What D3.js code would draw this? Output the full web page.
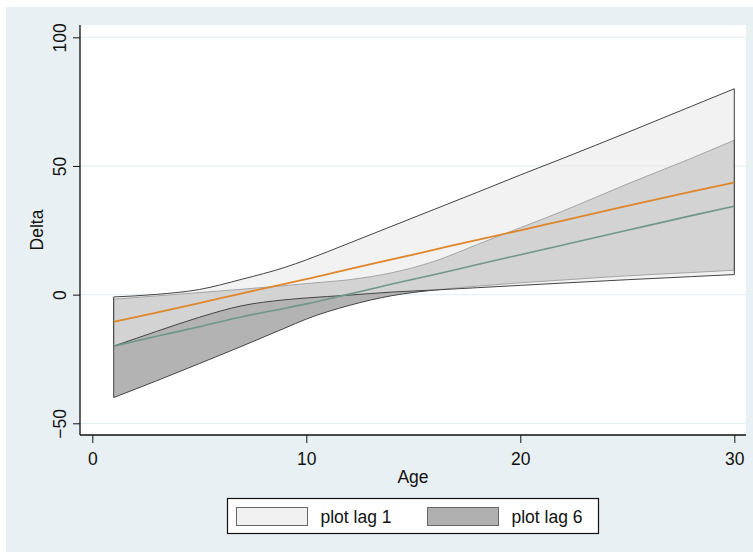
<!DOCTYPE html>
<html>
<head>
<meta charset="utf-8">
<script src="https://cdn.jsdelivr.net/npm/d3@7"></script>
<style>
  body { margin: 0; background: #fff; }
  svg text { font-family: "Liberation Sans", Arial, sans-serif; fill: #111; }
</style>
</head>
<body>
<div id="chart"></div>
<script>
// ages where the band edges / fitted lines were read
var ages = [1, 3, 5, 7, 9, 10, 12, 14, 16, 18, 20, 22, 25, 28, 30];

// lag 1 confidence band and fit
var lag1Upper = [-0.9, 0.1, 2.0, 6.0, 10.6, 13.5, 20, 26.6, 33.2, 39.8, 46.5, 53, 63, 73.2, 80];
var lag1Lower = [-20, -14.3, -8.8, -4.3, -2, -1.3, -0.2, 1.0, 1.8, 2.7, 3.6, 4.5, 5.8, 7, 7.8];
var lag1Fit   = [-10.6, -7, -3.3, 0.5, 4.2, 6, 9.9, 13.7, 17.5, 21.3, 25, 28.8, 34.5, 40, 43.6];

// lag 6 confidence band and fit
var lag6Upper = [-1.8, -0.5, 0.8, 2.1, 3.5, 4.3, 5.8, 8.5, 13, 19.5, 26, 32.5, 43, 53, 60];
var lag6Lower = [-40, -33.5, -26.8, -20, -13, -9.5, -4.2, -0.4, 1.8, 3.3, 4.6, 5.7, 7.3, 8.6, 9.5];
var lag6Fit   = [-20, -16.2, -12.5, -8.6, -5.3, -3.6, 0.2, 4.1, 7.8, 11.7, 15.5, 19.3, 25, 30.7, 34.4];

var xTicks = [0, 10, 20, 30];
var yTicks = [-50, 0, 50, 100];
var legendLabels = ["plot lag 1", "plot lag 6"];

var W = 753, H = 552;
var plot = {left: 80, right: 746, top: 25, bottom: 435};

var svg = d3.select("#chart").append("svg")
    .attr("width", W).attr("height", H);

// graph region
svg.append("rect").attr("x", 6).attr("y", 7).attr("width", W - 6).attr("height", H - 7)
    .attr("fill", "#e9f0f3");
svg.append("rect")
    .attr("x", plot.left).attr("y", plot.top)
    .attr("width", plot.right - plot.left).attr("height", plot.bottom - plot.top)
    .attr("fill", "#fff");

var x = d3.scaleLinear().domain([0, 30]).range([92.3, 734.3]);
var y = d3.scaleLinear().domain([-50, 100]).range([423.3, 37.3]);

// gridlines
svg.append("g").selectAll("line").data(yTicks).enter().append("line")
    .attr("x1", plot.left).attr("x2", plot.right)
    .attr("y1", function(d) { return y(d); }).attr("y2", function(d) { return y(d); })
    .attr("stroke", "#e6eff1").attr("stroke-width", 1.2);

function bandArea(upper, lower) {
    return d3.area()
        .x(function(d, i) { return x(ages[i]); })
        .y0(function(d, i) { return y(lower[i]); })
        .y1(function(d, i) { return y(upper[i]); })
        .curve(d3.curveMonotoneX)(ages);
}
function fitLine(vals) {
    return d3.line()
        .x(function(d, i) { return x(ages[i]); })
        .y(function(d, i) { return y(vals[i]); })
        .curve(d3.curveMonotoneX)(ages);
}

// lag 6 band underneath, lag 1 band semi-transparent on top
svg.append("path").attr("d", bandArea(lag6Upper, lag6Lower))
    .attr("fill", "#b3b3b3").attr("stroke", "#444").attr("stroke-width", 1);
svg.append("path").attr("d", bandArea(lag1Upper, lag1Lower))
    .attr("fill", "#e9e9e9").attr("fill-opacity", 0.59)
    .attr("stroke", "#444").attr("stroke-width", 1);
svg.append("path").attr("d", fitLine(lag6Fit))
    .attr("fill", "none").attr("stroke", "#6f978a").attr("stroke-width", 1.6);
svg.append("path").attr("d", fitLine(lag1Fit))
    .attr("fill", "none").attr("stroke", "#e0862a").attr("stroke-width", 1.8);

// axes
var yAxis = d3.axisLeft(y).tickValues(yTicks).tickSize(7).tickFormat(d3.format("d"));
var gy = svg.append("g").attr("transform", "translate(" + plot.left + ",0)").call(yAxis);
gy.select(".domain").remove();
gy.selectAll(".tick line").attr("stroke", "#111");
gy.selectAll(".tick text")
    .attr("x", null).attr("y", null).attr("dy", 0)
    .attr("text-anchor", "middle")
    .attr("transform", "translate(-14,0) rotate(-90)")
    .style("font-size", "17.5px");

var xAxis = d3.axisBottom(x).tickValues(xTicks).tickSize(8).tickFormat(d3.format("d"));
var gx = svg.append("g").attr("transform", "translate(0," + plot.bottom + ")").call(xAxis);
gx.select(".domain").remove();
gx.selectAll(".tick line").attr("stroke", "#111");
gx.selectAll(".tick text").attr("y", 30).attr("dy", 0).style("font-size", "17.5px");

svg.append("line").attr("x1", plot.left).attr("x2", plot.left)
    .attr("y1", plot.top).attr("y2", plot.bottom).attr("stroke", "#111").attr("stroke-width", 1.3);
svg.append("line").attr("x1", plot.left).attr("x2", plot.right)
    .attr("y1", plot.bottom).attr("y2", plot.bottom).attr("stroke", "#111").attr("stroke-width", 1.3);

// axis titles
svg.append("text").attr("transform", "translate(43,230) rotate(-90)")
    .attr("text-anchor", "middle").style("font-size", "17.5px").text("Delta");
svg.append("text").attr("x", (plot.left + plot.right) / 2).attr("y", 483)
    .attr("text-anchor", "middle").style("font-size", "17.5px").text("Age");

// legend
var legend = svg.append("g");
legend.append("rect").attr("x", 227.5).attr("y", 498.5).attr("width", 371).attr("height", 35)
    .attr("fill", "#fff").attr("stroke", "#111").attr("stroke-width", 1.2);
var swatchFill = ["#f0f0f0", "#b0b0b0"];
var swatchX = [236.5, 427.5];
legendLabels.forEach(function(lbl, i) {
    legend.append("rect").attr("x", swatchX[i]).attr("y", 507.5).attr("width", 71).attr("height", 18)
        .attr("fill", swatchFill[i]).attr("stroke", "#666").attr("stroke-width", 1);
    legend.append("text").attr("x", swatchX[i] + 84).attr("y", 523)
        .style("font-size", "17.5px").text(lbl);
});
</script>
</body>
</html>
